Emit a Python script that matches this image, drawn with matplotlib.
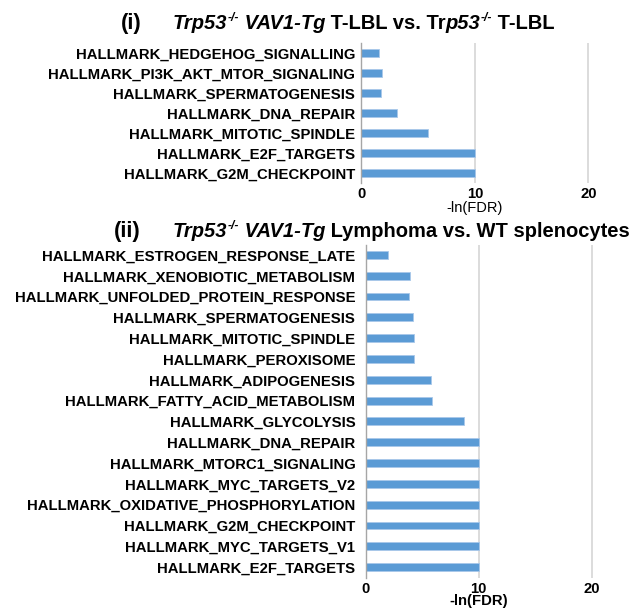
import matplotlib
matplotlib.use("Agg")
import matplotlib.pyplot as plt

plt.rcParams['font.family'] = ['Liberation Sans', 'DejaVu Sans']
plt.rcParams['font.weight'] = 'bold'

# panel (i): top to bottom
sets_i = ["HALLMARK_HEDGEHOG_SIGNALLING", "HALLMARK_PI3K_AKT_MTOR_SIGNALING",
          "HALLMARK_SPERMATOGENESIS", "HALLMARK_DNA_REPAIR",
          "HALLMARK_MITOTIC_SPINDLE", "HALLMARK_E2F_TARGETS",
          "HALLMARK_G2M_CHECKPOINT"]
vals_i = [1.5, 1.8, 1.7, 3.1, 5.9, 10, 10]

# panel (ii): top to bottom
sets_ii = ["HALLMARK_ESTROGEN_RESPONSE_LATE", "HALLMARK_XENOBIOTIC_METABOLISM",
           "HALLMARK_UNFOLDED_PROTEIN_RESPONSE", "HALLMARK_SPERMATOGENESIS",
           "HALLMARK_MITOTIC_SPINDLE", "HALLMARK_PEROXISOME",
           "HALLMARK_ADIPOGENESIS", "HALLMARK_FATTY_ACID_METABOLISM",
           "HALLMARK_GLYCOLYSIS", "HALLMARK_DNA_REPAIR",
           "HALLMARK_MTORC1_SIGNALING", "HALLMARK_MYC_TARGETS_V2",
           "HALLMARK_OXIDATIVE_PHOSPHORYLATION", "HALLMARK_G2M_CHECKPOINT",
           "HALLMARK_MYC_TARGETS_V1", "HALLMARK_E2F_TARGETS"]
vals_ii = [2.0, 3.9, 3.8, 4.2, 4.3, 4.3, 5.8, 5.9, 8.7,
           10, 10, 10, 10, 10, 10, 10]

xticks = [0, 10, 20]

# title pieces: (text, italic, superscript)
title_i = [("Trp53", True, False), ("-/-", True, True),
           (" VAV1-Tg", True, False), (" T-LBL vs. Tr", False, False),
           ("p53", True, False), ("-/-", True, True), (" T-LBL", False, False)]
title_ii = [("Trp53", True, False), ("-/-", True, True),
            (" VAV1-Tg", True, False),
            (" Lymphoma vs. WT splenocytes", False, False)]

W, H = 643, 610
fig = plt.figure(figsize=(W / 100, H / 100), dpi=100)
renderer = fig.canvas.get_renderer()


def px_axes(left, top, width, height):
    return fig.add_axes([left / W, 1 - (top + height) / H, width / W, height / H])


def draw(ax, names, vals, pad):
    y = range(len(names))
    ax.barh(y, vals, height=0.38, color='#5B9BD5', edgecolor='#A9C8EA',
            linewidth=0.6, zorder=3)
    ax.set_yticks(list(y))
    ax.set_yticklabels(names, fontsize=10.7, fontweight='bold')
    ax.set_ylim(len(names) - 0.5, -0.5)
    ax.set_xlim(0, 24)
    ax.set_xticks(xticks)
    ax.set_xticklabels([str(t) for t in xticks], fontsize=10.7, fontweight='bold')
    ax.tick_params(axis='y', length=0, pad=pad)
    ax.tick_params(axis='x', length=0, pad=3)
    ax.grid(axis='x', color='#D9D9D9', linewidth=1.3, zorder=0)
    for s in ['top', 'right', 'bottom']:
        ax.spines[s].set_visible(False)
    ax.spines['left'].set_color('#A6A6A6')
    ax.spines['left'].set_linewidth(1.0)
    ax.spines['left'].set_zorder(4)


def title_line(x_px, y_px, pieces, size):
    # write the pieces one after another along a common baseline
    x = x_px
    for txt, italic, sup in pieces:
        fs = size * 0.6 if sup else size
        yy = y_px - (size * 0.55 if sup else 0)
        t = fig.text(x / W, 1 - yy / H, txt, fontsize=fs, fontweight='bold',
                     fontstyle='italic' if italic else 'normal',
                     ha='left', va='baseline')
        bb = t.get_window_extent(renderer)
        x += bb.width


ax1 = px_axes(361.5, 43, 24 * 11.35, 140)
draw(ax1, sets_i, vals_i, 4.5)
ax1.set_xlabel("-ln(FDR)", fontsize=10.5, fontweight='normal', labelpad=0)
ax1.xaxis.label.set_x(10 / 24)

ax2 = px_axes(365.7, 244.5, 24 * 11.3, 333)
draw(ax2, sets_ii, vals_ii, 7.5)
ax2.set_xlabel("-ln(FDR)", fontsize=10.7, fontweight='bold', labelpad=-1)
ax2.xaxis.label.set_x(10 / 24)

tsize = 14.5
fig.text(121 / W, 1 - 29 / H, "(i)", fontsize=tsize + 1.2, fontweight='bold',
         ha='left', va='baseline')
title_line(173, 29, title_i, tsize)
fig.text(114 / W, 1 - 237 / H, "(ii)", fontsize=tsize + 1.2, fontweight='bold',
         ha='left', va='baseline')
title_line(173, 237, title_ii, tsize)

fig.savefig("out.png", dpi=100)
